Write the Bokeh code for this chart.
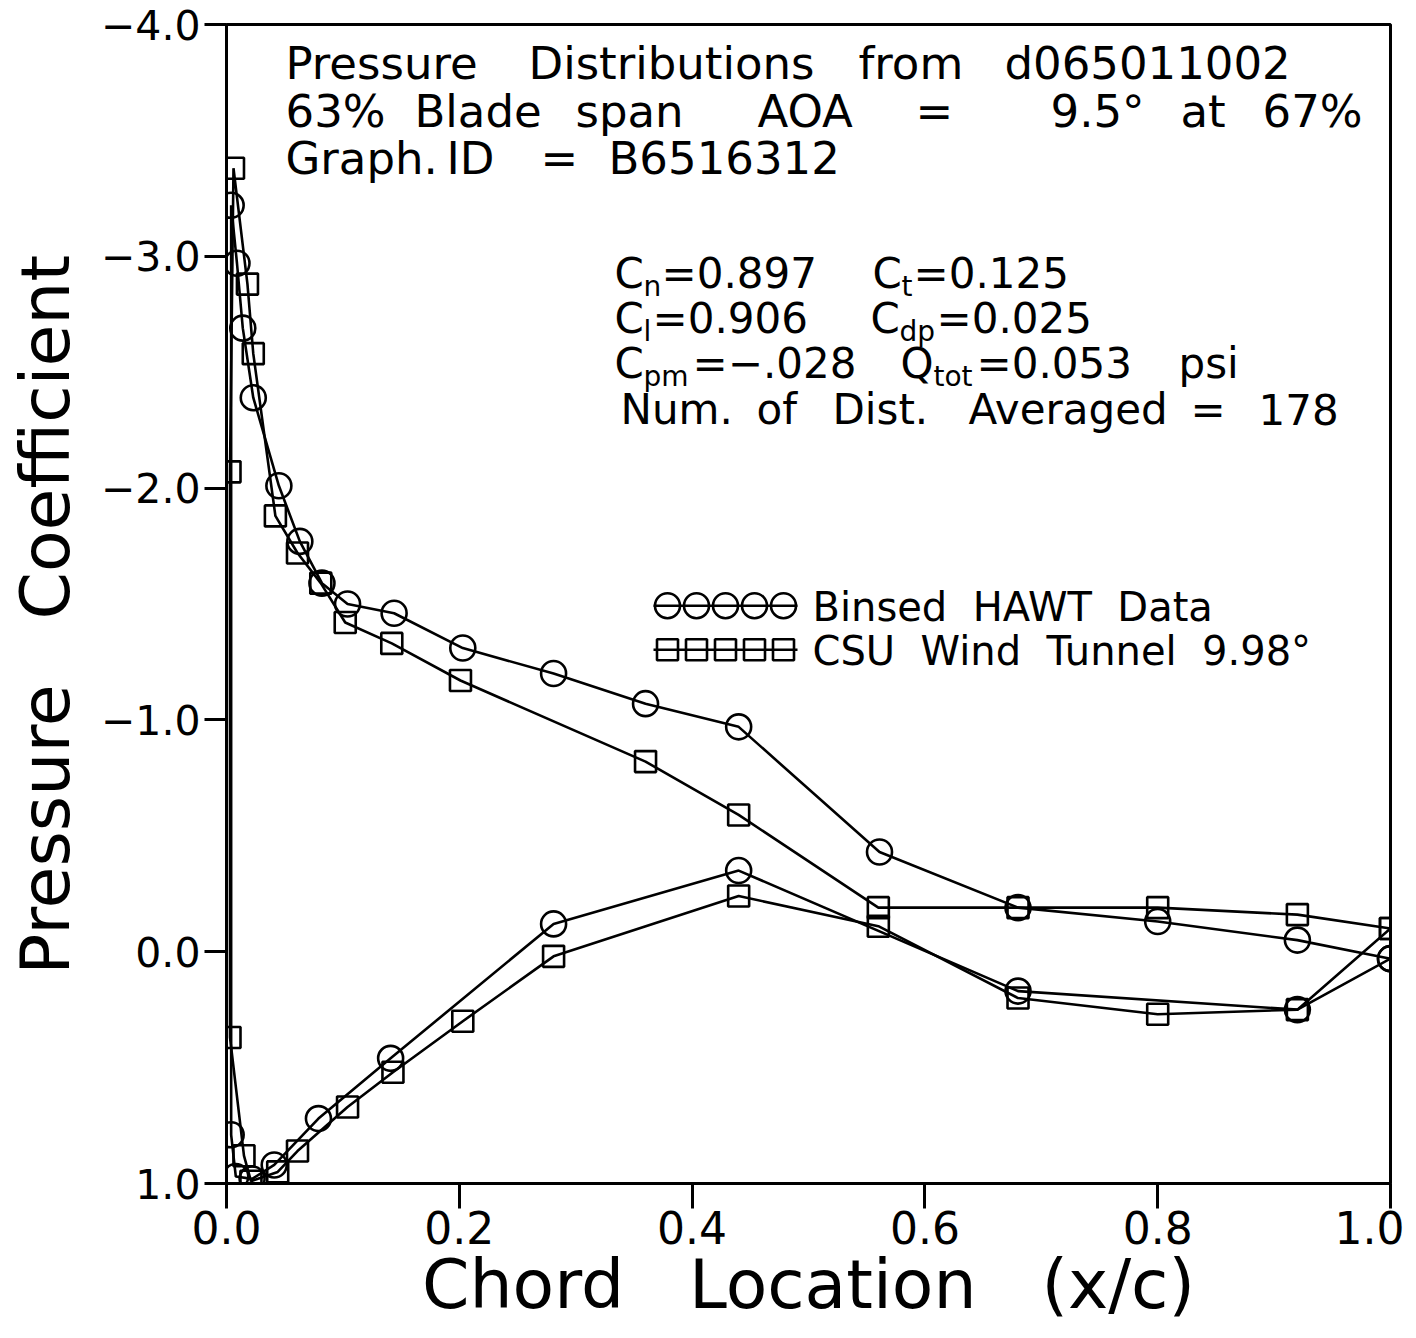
from bokeh.plotting import figure
from bokeh.models import Range1d, Label, FixedTicker
from bokeh.embed import file_html
from bokeh.resources import INLINE

# ---------------- data ----------------
hawt_upper_x = [0.004, 0.009, 0.014, 0.023, 0.045, 0.063, 0.082, 0.104, 0.144, 0.203,
                0.281, 0.360, 0.440, 0.561, 0.680, 0.800, 0.920, 1.000]
hawt_upper_cp = [-3.22, -2.97, -2.69, -2.39, -2.01, -1.77, -1.59, -1.50, -1.46, -1.31,
                 -1.20, -1.07, -0.97, -0.43, -0.19, -0.13, -0.05, 0.03]
hawt_lower_x = [0.004, 0.008, 0.022, 0.041, 0.079, 0.141, 0.281, 0.440, 0.680, 0.920, 1.000]
hawt_lower_cp = [0.79, 0.97, 0.98, 0.92, 0.72, 0.46, -0.12, -0.35, 0.17, 0.25, 0.03]

csu_upper_x = [0.003, 0.006, 0.018, 0.023, 0.042, 0.061, 0.081, 0.102, 0.142, 0.201,
               0.360, 0.440, 0.560, 0.680, 0.800, 0.920, 1.000]
csu_upper_cp = [-2.07, -3.38, -2.88, -2.58, -1.88, -1.72, -1.59, -1.42, -1.33, -1.17,
                -0.82, -0.59, -0.19, -0.19, -0.19, -0.16, -0.10]
csu_lower_x = [0.003, 0.015, 0.021, 0.044, 0.061, 0.104, 0.143, 0.203, 0.281, 0.440,
               0.560, 0.680, 0.800, 0.920, 1.000]
csu_lower_cp = [0.37, 0.88, 0.99, 0.95, 0.86, 0.67, 0.52, 0.30, 0.02, -0.24,
                -0.11, 0.20, 0.27, 0.25, -0.10]

x_ticks = [0.0, 0.2, 0.4, 0.6, 0.8, 1.0]
x_tick_labels = ["0.0", "0.2", "0.4", "0.6", "0.8", "1.0"]
y_ticks = [-4, -3, -2, -1, 0, 1]
y_tick_labels = ["\u22124.0", "\u22123.0", "\u22122.0", "\u22121.0", "0.0", "1.0"]

NB = "\u00a0"
series_names = [f"Binsed{NB*2}HAWT{NB*2}Data", f"CSU{NB*2}Wind{NB*2}Tunnel{NB*2}9.98\u00b0"]
x_title = f"Chord{NB*3}Location{NB*3}(x/c)"
y_title = f"Pressure{NB*3}Coefficient{NB}"

# ---------------- figure ----------------
FONT = "DejaVu Sans"
p = figure(frame_width=1164, frame_height=1159,
           x_range=Range1d(0, 1), y_range=Range1d(1, -4),
           output_backend="svg", toolbar_location=None,
           min_border_left=226, min_border_top=24, min_border_right=14,
           min_border_bottom=148, background_fill_color="white",
           border_fill_color="white")
p.grid.visible = False
p.outline_line_color = "black"
p.outline_line_width = 3

for ax in (p.xaxis[0], p.yaxis[0]):
    ax.axis_line_width = 3
    ax.axis_line_color = "black"
    ax.major_tick_line_width = 3
    ax.major_tick_line_color = "black"
    ax.major_tick_in = 0
    ax.minor_tick_line_color = None
    ax.major_label_text_font = FONT
    ax.major_label_text_color = "black"
    ax.axis_label_text_font = FONT
    ax.axis_label_text_font_style = "normal"
    ax.axis_label_text_color = "black"
    ax.axis_label_text_font_size = "68px"

p.xaxis.ticker = FixedTicker(ticks=x_ticks)
p.xaxis.major_label_overrides = {t: l for t, l in zip(x_ticks, x_tick_labels)}
p.xaxis.major_tick_out = 25
p.xaxis.major_label_standoff = 2
p.xaxis.major_label_text_font_size = "44px"
p.xaxis.axis_label = x_title
p.xaxis.axis_label_standoff = -2

p.yaxis.ticker = FixedTicker(ticks=y_ticks)
p.yaxis.major_label_overrides = {t: l for t, l in zip(y_ticks, y_tick_labels)}
p.yaxis.major_tick_out = 22
p.yaxis.major_label_standoff = 4
p.yaxis.major_label_text_font_size = "41px"
p.yaxis.axis_label = y_title
p.yaxis.axis_label_standoff = 13

# closed loops: lower surface from TE to LE, then upper surface LE to TE
hawt_x = hawt_lower_x[::-1] + hawt_upper_x
hawt_y = hawt_lower_cp[::-1] + hawt_upper_cp
csu_x = csu_lower_x[::-1] + csu_upper_x
csu_y = csu_lower_cp[::-1] + csu_upper_cp

LW = 2.6
p.line(hawt_x, hawt_y, line_color="black", line_width=LW)
p.line(csu_x, csu_y, line_color="black", line_width=LW)
p.scatter(hawt_x, hawt_y, marker="circle", size=25, fill_alpha=0,
          line_color="black", line_width=LW)
p.scatter(csu_x, csu_y, marker="square", size=21, fill_alpha=0,
          line_color="black", line_width=LW)

# ---------------- layout helpers (reference pixel -> data) ----------------
X0, XS = 226.0, 1164.0
Y0, YS = 951.0, 231.8


def X(px):
    return (px - X0) / XS


def Y(py):
    return (py - Y0) / YS


def label(px, py, text, size):
    # py: wanted baseline in reference pixels (empirical shift for Label layout)
    p.add_layout(Label(x=X(px), y=Y(py - 0.34 * size), text=text, text_font=FONT,
                       text_font_size=f"{size}px", text_color="black",
                       text_align="left", text_baseline="alphabetic"))


# header lines (word positions)
header = [
    (78, [(285, "Pressure"), (528, "Distributions"), (858, "from"), (1004, "d065011002")]),
    (126, [(285, "63%"), (414, "Blade"), (575, "span"), (757, "AOA"), (915, "="),
           (1050, "9.5\u00b0"), (1180, "at"), (1262, "67%")]),
    (173, [(285, "Graph."), (446, "ID"), (540, "="), (608, "B6516312")]),
]
for base, words in header:
    for px, w in words:
        label(px, base, w, 45)

# coefficient block: (x, text, is_subscript)
coef = [
    (287, [(614, "C", 0), (643, "n", 1), (661, "=0.897", 0),
           (872, "C", 0), (901, "t", 1), (913, "=0.125", 0)]),
    (332, [(614, "C", 0), (643, "l", 1), (652, "=0.906", 0),
           (870, "C", 0), (899, "dp", 1), (936, "=0.025", 0)]),
    (377, [(614, "C", 0), (643, "pm", 1), (692, "=\u2212.028", 0),
           (900, "Q", 0), (933, "tot", 1), (976, "=0.053", 0), (1178, "psi", 0)]),
    (423, [(620, "Num.", 0), (756, "of", 0), (832, "Dist.", 0), (968, "Averaged", 0),
           (1190, "=", 0), (1258, "178", 0)]),
]
for base, parts in coef:
    for px, t, sub in parts:
        if sub:
            label(px, base + 8, t, 28)
        else:
            label(px, base, t, 42)

# legend (drawn by hand like the original)
leg_rows = [(605, "circle", 25), (649, "square", 21)]
leg_cx = [667, 696, 725, 754, 783]
for (py, mk, sz), name in zip(leg_rows, series_names):
    p.line([X(653), X(797)], [Y(py), Y(py)], line_color="black", line_width=LW)
    p.scatter([X(c) for c in leg_cx], [Y(py)] * len(leg_cx), marker=mk, size=sz,
              fill_alpha=0, line_color="black", line_width=LW)
    label(812, py + 15, name, 40)

open("out.html", "w").write(file_html(p, INLINE))
